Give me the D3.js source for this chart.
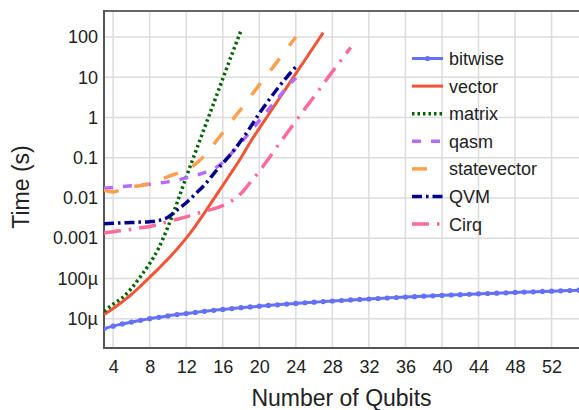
<!DOCTYPE html>
<html><head><meta charset="utf-8">
<script src="https://cdn.jsdelivr.net/npm/d3@7"></script>
<style>body{margin:0;background:#fff}svg{display:block;font-family:"Liberation Sans",Arial,sans-serif}</style>
</head><body><svg id="c" width="579" height="410"></svg>
<script>
const xTicks = [4,8,12,16,20,24,28,32,36,40,44,48,52];
const yTicks = [1e-5,1e-4,1e-3,1e-2,1e-1,1,10,100];
const yTickLabels = ["10µ","100µ","0.001","0.01","0.1","1","10","100"];
const seriesNames = ["bitwise","vector","matrix","qasm","statevector","QVM","Cirq"];

const bitwiseQ = d3.range(3,56);
const bitwise = [5.6e-6,6.5e-6,7.4e-6,8.2e-6,9.1e-6,10.0e-6,10.8e-6,11.7e-6,12.6e-6,13.4e-6,14.3e-6,15.2e-6,16.1e-6,16.9e-6,17.8e-6,18.7e-6,19.5e-6,20.4e-6,21.3e-6,22.1e-6,23.0e-6,23.9e-6,24.8e-6,25.6e-6,26.5e-6,27.4e-6,28.2e-6,29.1e-6,30.0e-6,30.8e-6,31.7e-6,32.6e-6,33.5e-6,34.3e-6,35.2e-6,36.1e-6,36.9e-6,37.8e-6,38.7e-6,39.5e-6,40.4e-6,41.3e-6,42.2e-6,43.0e-6,43.9e-6,44.8e-6,45.6e-6,46.5e-6,47.4e-6,48.2e-6,49.1e-6,50.0e-6,50.9e-6];
const vector = [1.26e-5,1.78e-5,2.63e-5,3.98e-5,6.46e-5,1.07e-4,1.78e-4,3.02e-4,5.37e-4,1.0e-3,2.00e-3,4.27e-3,9.33e-3,2.04e-2,4.47e-2,0.100,0.240,0.537,1.17,2.57,5.62,12.3,26.9,58.9,129];
const matrix = [1.51e-5,2.29e-5,3.31e-5,5.62e-5,1.12e-4,2.34e-4,5.75e-4,1.91e-3,7.59e-3,3.31e-2,0.135,0.550,2.24,9.12,37.2,145];
const qasm = [0.0174,0.0182,0.0191,0.0200,0.0209,0.0219,0.0234,0.0251,0.0275,0.0316,0.0363,0.0427,0.0525,0.0759,0.132,0.240,0.437,0.832,1.58,2.95,5.50,9.77];
const statevector = [0.0155,0.0141,0.0162,0.0186,0.0204,0.0224,0.0269,0.0339,0.0407,0.0490,0.0692,0.112,0.214,0.417,0.832,1.62,3.24,6.46,12.6,25.1,50.1,100];
const qvm = [0.00229,0.00234,0.00240,0.00245,0.00251,0.00257,0.00275,0.00331,0.00501,0.00759,0.0126,0.0209,0.0398,0.0724,0.132,0.263,0.562,1.26,2.63,5.25,10.0,18.2];
const cirq = [0.00135,0.00145,0.00155,0.00166,0.00182,0.00195,0.00224,0.00257,0.00295,0.00339,0.00398,0.00468,0.00537,0.00646,0.00851,0.0129,0.0240,0.0457,0.0933,0.195,0.398,0.813,1.66,3.31,6.76,13.8,27.5,55.0];
const startQ = 3;

const svg = d3.select("#c");
const L = 104, T = 11, R = 579, B = 348;
const x = d3.scaleLinear().domain([3,55]).range([L,R]);
const y = d3.scaleLog().domain([Math.pow(10,-5.73), Math.pow(10,2.647)]).range([B,T]);

const defs = svg.append("defs");
defs.append("clipPath").attr("id","clip").append("rect").attr("x",L).attr("y",T).attr("width",R-L).attr("height",B-T);

// grid
const grid = svg.append("g");
grid.selectAll("line.v").data(xTicks).join("line")
  .attr("x1",d=>x(d)).attr("x2",d=>x(d)).attr("y1",T).attr("y2",B)
  .attr("stroke","#dcdcdc").attr("stroke-width",1.5);
grid.selectAll("line.h").data(yTicks).join("line")
  .attr("y1",d=>y(d)).attr("y2",d=>y(d)).attr("x1",L).attr("x2",R)
  .attr("stroke","#dcdcdc").attr("stroke-width",1.5);

// axes
const xAxis = d3.axisBottom(x).tickValues(xTicks).tickSize(0).tickPadding(12);
const gx = svg.append("g").attr("transform",`translate(0,${B})`).call(xAxis);
gx.select(".domain").remove();
gx.selectAll("text").attr("font-size",18).attr("fill","#222").attr("font-family","Liberation Sans, Arial, sans-serif");

const yAxis = d3.axisLeft(y).tickValues(yTicks).tickFormat((d,i)=>yTickLabels[i]).tickSize(0).tickPadding(6);
const gy = svg.append("g").attr("transform",`translate(${L},0)`).call(yAxis);
gy.select(".domain").remove();
gy.selectAll("text").attr("font-size",18).attr("fill","#222").attr("font-family","Liberation Sans, Arial, sans-serif");

// frame
svg.append("line").attr("x1",L).attr("x2",R).attr("y1",T).attr("y2",T).attr("stroke","#666").attr("stroke-width",2);
svg.append("line").attr("x1",L).attr("x2",R).attr("y1",B).attr("y2",B).attr("stroke","#555").attr("stroke-width",2);
svg.append("line").attr("x1",L).attr("x2",L).attr("y1",T-1).attr("y2",B+1).attr("stroke","#555").attr("stroke-width",2);

// titles
svg.append("text").attr("x",(L+R)/2).attr("y",406).attr("text-anchor","middle")
  .attr("font-size",23).attr("fill","#222").text("Number of Qubits");
svg.append("text").attr("transform","translate(29,187) rotate(-90)").attr("text-anchor","middle")
  .attr("font-size",23).attr("fill","#222").text("Time (s)");

const styles = [
  {name:"bitwise", data:bitwise, color:"#6470f5", dash:null, w:3},
  {name:"vector", data:vector, color:"#ef5536", dash:null, w:3},
  {name:"matrix", data:matrix, color:"#006400", dash:"2.5,3", w:3.5},
  {name:"qasm", data:qasm, color:"#b36cf5", dash:"9,10", w:3.5},
  {name:"statevector", data:statevector, color:"#ffa050", dash:"15,16", w:3.5},
  {name:"QVM", data:qvm, color:"#000088", dash:"10,4,2.5,4", w:3.5},
  {name:"Cirq", data:cirq, color:"#ff6b98", dash:"17,8,2.5,8", w:3.5}
];

const plot = svg.append("g").attr("clip-path","url(#clip)");
const line = d3.line().x(d=>x(d[0])).y(d=>y(d[1])).curve(d3.curveMonotoneX);
const order = [1,2,3,4,5,6,0];
order.forEach(i=>{
  const s = styles[i];
  const pts = s.name==="bitwise" ? s.data.map((v,j)=>[bitwiseQ[j],v]) : s.data.map((v,j)=>[startQ+j,v]);
  plot.append("path").datum(pts).attr("d",line).attr("fill","none")
    .attr("stroke",s.color).attr("stroke-width",s.w)
    .attr("stroke-dasharray",s.dash).attr("stroke-linejoin","round");
  if(s.name==="bitwise"){
    plot.selectAll("circle.b").data(pts).join("circle").attr("class","b")
      .attr("cx",d=>x(d[0])).attr("cy",d=>y(d[1])).attr("r",2.6).attr("fill",s.color);
  }
});

// legend
const lg = svg.append("g");
const ly0 = 58.5, ldy = 27.6;
styles.forEach((s,i)=>{
  const yy = ly0 + i*ldy;
  lg.append("line").attr("x1",412).attr("x2",443).attr("y1",yy).attr("y2",yy)
    .attr("stroke",s.color).attr("stroke-width",s.w).attr("stroke-dasharray",s.dash);
  if(s.name==="bitwise") lg.append("circle").attr("cx",427.5).attr("cy",yy).attr("r",2.6).attr("fill",s.color);
  lg.append("text").attr("x",449).attr("y",yy+6.5).attr("font-size",18).attr("fill","#222").text(s.name);
});
</script></body></html>
